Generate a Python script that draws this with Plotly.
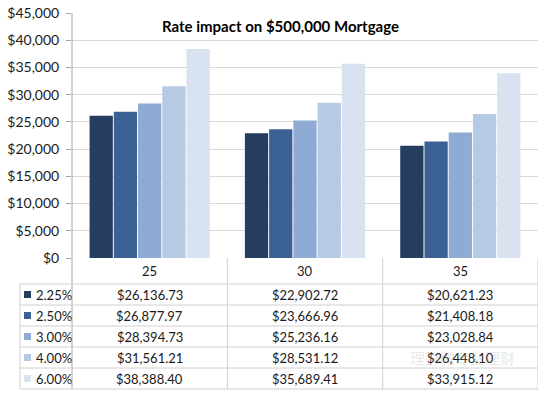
import plotly.graph_objects as go

categories = ["25", "30", "35"]
rates = ["2.25%", "2.50%", "3.00%", "4.00%", "6.00%"]
values = {
    "2.25%": [26136.73, 22902.72, 20621.23],
    "2.50%": [26877.97, 23666.96, 21408.18],
    "3.00%": [28394.73, 25236.16, 23028.84],
    "4.00%": [31561.21, 28531.12, 26448.10],
    "6.00%": [38388.40, 35689.41, 33915.12],
}
colors = ["#253D5E", "#3A6094", "#8FABD4", "#B6CAE4", "#D8E2F1"]
y_ticks = list(range(0, 45001, 5000))
title = "Rate impact on $500,000 Mortgage"

FONT = "Lato, 'Open Sans', sans-serif"
W, H = 550, 393
ML, MR, MT, MB = 72, 12, 13, 135
PH = H - MT - MB
PW = W - ML - MR


def py(pix):
    return (MT + PH - pix) / PH


def px(pix):
    return (pix - ML) / PW


fig = go.Figure()
for i, r in enumerate(rates):
    fig.add_trace(go.Bar(
        x=list(range(len(categories))), y=values[r], name=r,
        marker=dict(color=colors[i], line=dict(width=0)),
        showlegend=False, hoverinfo="skip",
    ))

shapes = []
annotations = []
grid = "#D0D0D0"
header_top, header_bot = 258, 284
row_h = 21
n = len(rates)
table_bot = header_bot + n * row_h

for k in range(1, len(categories) + 1):
    xv = k - 0.5
    shapes.append(dict(type="line", xref="x", yref="paper", x0=xv, x1=xv,
                       y0=py(header_top), y1=py(table_bot),
                       line=dict(color=grid, width=1)))
shapes.append(dict(type="line", xref="paper", yref="paper", x0=0, x1=0,
                   y0=1, y1=py(table_bot), line=dict(color="#A6A6A6", width=1)))
for j in range(n + 1):
    yy = header_bot + j * row_h
    shapes.append(dict(type="line", xref="paper", yref="paper",
                       x0=px(20), x1=1,
                       y0=py(yy), y1=py(yy), line=dict(color=grid, width=1)))
shapes.append(dict(type="line", xref="paper", yref="paper",
                   x0=px(20), x1=px(20),
                   y0=py(header_bot), y1=py(table_bot), line=dict(color=grid, width=1)))

TXT = dict(size=13, color="#1A1A1A", family=FONT)
for k, c in enumerate(categories):
    annotations.append(dict(x=k, y=py((header_top + header_bot) / 2), xref="x", yref="paper",
                            text=c, showarrow=False, xanchor="center", yanchor="middle",
                            font=TXT))
for j, r in enumerate(rates):
    yc = header_bot + j * row_h + row_h / 2
    for k in range(len(categories)):
        annotations.append(dict(x=k, y=py(yc), xref="x", yref="paper",
                                text=f"${values[r][k]:,.2f}", showarrow=False,
                                xanchor="center", yanchor="middle", font=TXT))
    shapes.append(dict(type="rect", xref="paper", yref="paper", x0=px(24), x1=px(31),
                       y0=py(yc + 3.5), y1=py(yc - 3.5), fillcolor=colors[j],
                       line=dict(width=0)))
    annotations.append(dict(x=px(34), y=py(yc), xref="paper", yref="paper",
                            text=r, showarrow=False, xanchor="left", yanchor="middle",
                            font=TXT))

annotations.append(dict(x=px(280), y=py(26), xref="paper", yref="paper",
                        text=f"<b>{title}</b>", showarrow=False,
                        xanchor="center", yanchor="middle",
                        font=dict(size=15, color="#000000", family=FONT)))
annotations.append(dict(x=px(462), y=py(357), xref="paper", yref="paper",
                        text="理财微专业理财", showarrow=False, opacity=0.22,
                        xanchor="center", yanchor="middle",
                        font=dict(size=15, color="#999999", family="Noto Sans CJK SC")))

fig.update_layout(
    width=W, height=H, autosize=False,
    margin=dict(l=ML, r=MR, t=MT, b=MB, pad=0, autoexpand=False),
    paper_bgcolor="white", plot_bgcolor="white",
    barmode="group", bargap=0.22, bargroupgap=0.04,
    shapes=shapes, annotations=annotations,
    xaxis=dict(range=[-0.5, len(categories) - 0.5], showticklabels=False,
               showgrid=False, zeroline=False, showline=False, ticks="",
               automargin=False),
    yaxis=dict(range=[0, 45000], tickvals=y_ticks,
               ticktext=[f"${v:,}" for v in y_ticks],
               showgrid=True, gridcolor="#D9D9D9", gridwidth=1,
               zeroline=False, showline=False, ticks="outside", ticklen=5,
               tickcolor="#A6A6A6", ticklabelstandoff=4, automargin=False,
               tickfont=dict(size=14, color="#1A1A1A", family=FONT)),
    font=dict(family=FONT),
)
fig.write_html("out.html", config={"displayModeBar": False},
               post_script="document.body.style.margin='0';document.body.style.overflow='hidden';")
